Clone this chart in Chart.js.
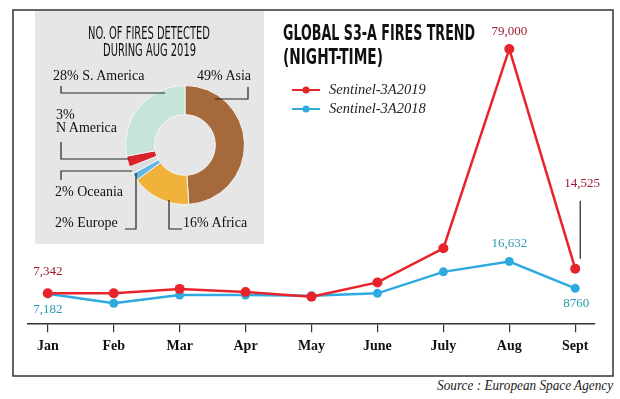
<!DOCTYPE html>
<html>
<head>
<meta charset="utf-8">
<script src="https://cdn.jsdelivr.net/npm/chart.js@4"></script>
<style>
    html, body { margin: 0; padding: 0; background: #fff; }
    #page { position: relative; width: 620px; height: 399px; overflow: hidden; }
    .abs { position: absolute; }
    #greyBox { left: 35px; top: 11px; width: 229px; height: 233px; background: #e6e6e6; }
    #lineWrap { left: 0; top: 0; width: 620px; height: 370px; }
    #pieWrap { left: 125px; top: 85px; width: 120px; height: 120px; }
    .cond { font-family: "DejaVu Sans Condensed", "DejaVu Sans", sans-serif; color: #111; white-space: nowrap; transform-origin: left center; line-height: 1; }
    .ser { font-family: "Liberation Serif", serif; font-size: 14px; color: #111; white-space: nowrap; line-height: 1; }
    .src { font-family: "Liberation Serif", serif; font-style: italic; font-size: 14px; color: #222; white-space: nowrap; transform-origin: right center; line-height: 1; }
    svg { position: absolute; left: 0; top: 0; }
</style>
</head>
<body>
<div id="page">
    <div id="greyBox" class="abs"></div>
    <div id="lineWrap" class="abs"><canvas id="graficoLinha"></canvas></div>
    <div id="pieWrap" class="abs"><canvas id="graficoPizza"></canvas></div>

    <div class="abs cond fit" data-w="122" style="left:88px; top:25px; font-size:17px;">NO. OF FIRES DETECTED</div>
    <div class="abs cond fit" data-w="93" style="left:103px; top:42px; font-size:17px;">DURING AUG 2019</div>

    <div class="abs ser" style="left:53px; top:69px;">28% S. America</div>
    <div class="abs ser" style="left:197px; top:69px;">49% Asia</div>
    <div class="abs ser" style="left:56px; top:108px;">3%</div>
    <div class="abs ser" style="left:56px; top:121px;">N America</div>
    <div class="abs ser" style="left:55px; top:185px;">2% Oceania</div>
    <div class="abs ser" style="left:55px; top:216px;">2% Europe</div>
    <div class="abs ser" style="left:183px; top:216px;">16% Africa</div>

    <div class="abs cond fit" data-w="192" style="left:283px; top:22px; font-size:22px; font-weight:bold;">GLOBAL S3-A FIRES TREND</div>
    <div class="abs cond fit" data-w="100" style="left:283px; top:46px; font-size:22px; font-weight:bold;">(NIGHT-TIME)</div>

    <div class="abs src fitr" data-w="176" style="right:7px; top:379px;">Source : European Space Agency</div>

    <svg width="620" height="399">
        <rect x="13" y="10" width="600" height="366" fill="none" stroke="#333" stroke-width="1.5"/>
        <g stroke="#222" stroke-width="1.2" fill="none">
            <polyline points="61,86 61,93 165,93"/>
            <polyline points="248,87 248,99 215,99"/>
            <polyline points="61,142 61,159 129,159"/>
            <polyline points="61,180 61,171 132,171"/>
            <polyline points="125,229 136,229 136,173"/>
            <polyline points="169,200 169,229 182,229"/>
        </g>
    </svg>
</div>

<script>
// =======================
// DADOS
// =======================
const months = ["Jan", "Feb", "Mar", "Apr", "May", "June", "July", "Aug", "Sept"];
const fires2019 = [7342, 7300, 8600, 7700, 6300, 10500, 20500, 79000, 14525];
const fires2018 = [7182, 4400, 6800, 6800, 6600, 7300, 13600, 16632, 8760];

const regions = ["Asia", "Africa", "Europe", "Oceania", "N America", "S. America"];
const shares = [49, 16, 2, 2, 3, 28];

// =======================
// CORES
// =======================
const RED = "#e8242b";
const BLUE = "#2eaae1";
const RED_TXT = "#9e1b32";
const BLUE_TXT = "#2b9bb3";
const regionColors = ["#a5693c", "#f0b23a", "#62b7e4", "#dcdcdc", "#d9252a", "#c6e4d8"];

// rótulos dos pontos (dataset, índice, deslocamento)
const pointLabels = [
    { ds: 0, i: 0, dx: 0, dy: -22, color: RED_TXT },
    { ds: 1, i: 0, dx: 0, dy: 16, color: BLUE_TXT },
    { ds: 0, i: 7, dx: 0, dy: -17, color: RED_TXT },
    { ds: 1, i: 7, dx: 0, dy: -18, color: BLUE_TXT },
    { ds: 1, i: 8, dx: 1, dy: 15, color: BLUE_TXT },
    { ds: 0, i: 8, dx: 7, dy: -85, color: RED_TXT, lead: [5, -68, -10] }
];

// =======================
// PLUGINS
// =======================
const valueLabels = {
    id: "valueLabels",
    afterDatasetsDraw(chart) {
        const ctx = chart.ctx;
        ctx.save();
        ctx.font = "13px 'Liberation Serif', serif";
        ctx.textAlign = "center";
        ctx.textBaseline = "middle";
        pointLabels.forEach(l => {
            const pt = chart.getDatasetMeta(l.ds).data[l.i];
            const v = chart.data.datasets[l.ds].data[l.i].y;
            const txt = v === 8760 ? "8760" : v.toLocaleString("en-US");
            ctx.fillStyle = l.color;
            ctx.fillText(txt, pt.x + l.dx, pt.y + l.dy);
            if (l.lead) {
                ctx.strokeStyle = "#222";
                ctx.lineWidth = 1.2;
                ctx.beginPath();
                ctx.moveTo(pt.x + l.lead[0], pt.y + l.lead[1]);
                ctx.lineTo(pt.x + l.lead[0], pt.y + l.lead[2]);
                ctx.stroke();
            }
        });
        ctx.restore();
    }
};

const legendaFixa = {
    id: "legendaFixa",
    afterDraw(chart) {
        const ctx = chart.ctx;
        ctx.save();
        chart.data.datasets.forEach((ds, k) => {
            const y = 90 + k * 19;
            ctx.strokeStyle = ds.borderColor;
            ctx.lineWidth = 2;
            ctx.beginPath();
            ctx.moveTo(292, y);
            ctx.lineTo(320, y);
            ctx.stroke();
            ctx.fillStyle = ds.borderColor;
            ctx.beginPath();
            ctx.arc(306, y, 3.5, 0, Math.PI * 2);
            ctx.fill();
            ctx.fillStyle = "#222";
            ctx.font = "italic 14.5px 'Liberation Serif', serif";
            ctx.textBaseline = "middle";
            ctx.fillText(ds.label, 329, y);
        });
        ctx.restore();
    }
};

// =======================
// GRÁFICO DE LINHA
// =======================
const toPoints = arr => arr.map((v, i) => ({ x: i, y: v }));

new Chart(document.getElementById("graficoLinha"), {
    type: "line",
    data: {
        datasets: [
            {
                label: "Sentinel-3A2019",
                data: toPoints(fires2019),
                borderColor: RED,
                backgroundColor: RED,
                borderWidth: 2.5,
                pointRadius: 5,
                pointBackgroundColor: RED,
                pointBorderWidth: 0,
                tension: 0,
                fill: false
            },
            {
                label: "Sentinel-3A2018",
                data: toPoints(fires2018),
                borderColor: BLUE,
                backgroundColor: BLUE,
                borderWidth: 2.5,
                pointRadius: 4.5,
                pointBackgroundColor: BLUE,
                pointBorderWidth: 0,
                tension: 0,
                fill: false
            }
        ]
    },
    options: {
        responsive: true,
        maintainAspectRatio: false,
        animation: false,
        events: [],
        layout: { padding: { left: 28, right: 25, top: 20, bottom: 9 } },
        plugins: { legend: { display: false }, tooltip: { enabled: false } },
        scales: {
            x: {
                type: "linear",
                min: -0.3,
                max: 8.3,
                afterBuildTicks: scale => {
                    scale.ticks = months.map((m, i) => ({ value: i }));
                },
                ticks: {
                    autoSkip: false,
                    maxRotation: 0,
                    padding: 6,
                    color: "#111",
                    font: { family: "'Liberation Serif', serif", size: 14, weight: "bold" },
                    callback: v => months[v]
                },
                grid: { drawOnChartArea: false, drawTicks: true, tickLength: 8, color: "#333", lineWidth: 1.2 },
                border: { display: true, color: "#333", width: 1.5 }
            },
            y: {
                display: false,
                min: -1760,
                max: 87500
            }
        }
    },
    plugins: [valueLabels, legendaFixa]
});

// =======================
// GRÁFICO DE PIZZA
// =======================
new Chart(document.getElementById("graficoPizza"), {
    type: "doughnut",
    data: {
        labels: regions,
        datasets: [{
            data: shares,
            backgroundColor: regionColors,
            borderColor: "#f4f4f4",
            borderWidth: 1
        }]
    },
    options: {
        responsive: true,
        maintainAspectRatio: false,
        animation: false,
        events: [],
        cutout: "51%",
        layout: { padding: 0 },
        plugins: { legend: { display: false }, tooltip: { enabled: false } }
    }
});

// =======================
// UTIL
// =======================
function ajustarLargura() {
    document.querySelectorAll(".fit, .fitr").forEach(el => {
        const alvo = +el.dataset.w;
        const atual = el.getBoundingClientRect().width;
        if (atual > 0) el.style.transform = `scaleX(${alvo / atual})`;
    });
}
ajustarLargura();
</script>
</body>
</html>
